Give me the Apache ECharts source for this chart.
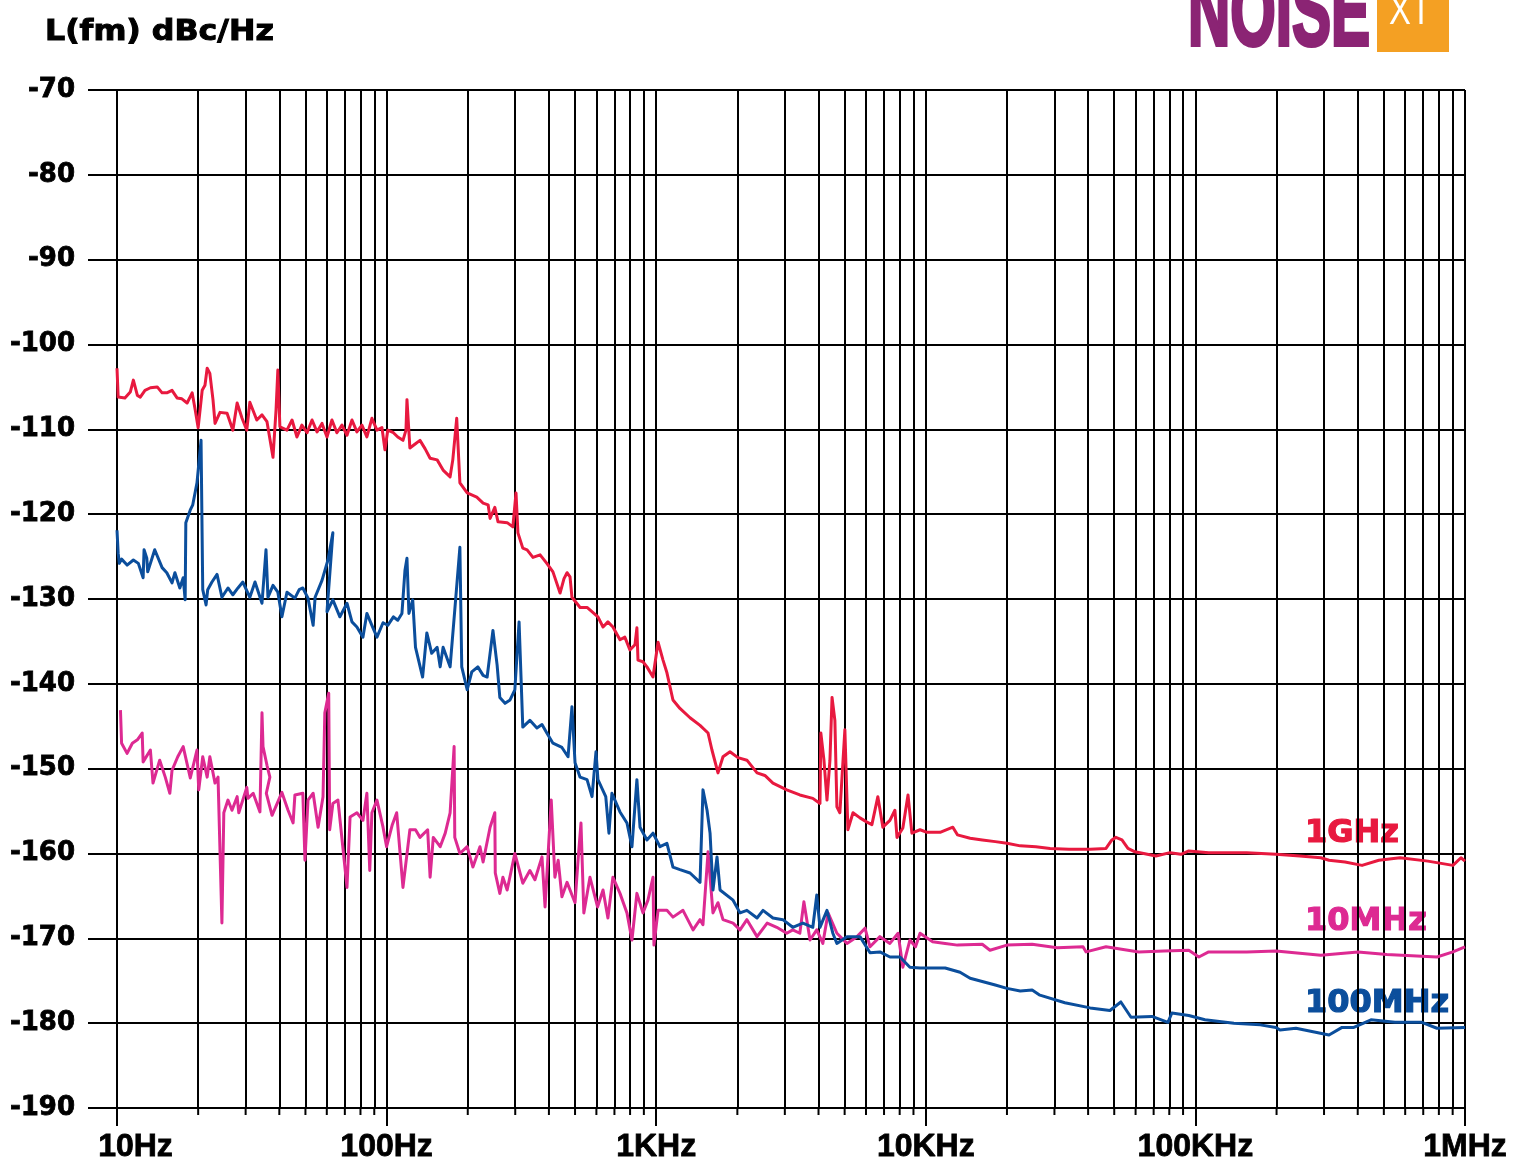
<!DOCTYPE html>
<html>
<head>
<meta charset="utf-8">
<script src="https://cdn.jsdelivr.net/npm/echarts@6.0.0/dist/echarts.min.js"></script>
<style>
html,body{margin:0;padding:0;background:#ffffff;}
#chart{width:1527px;height:1162px;}
</style>
</head>
<body>
<div id="chart"></div>
<script>
// ---------- data (frequency in Hz, level in dBc/Hz) ----------
const xTickValues = [10, 100, 1000, 10000, 100000, 1000000];
const xTickLabels = ['10Hz', '100Hz', '1KHz', '10KHz', '100KHz', '1MHz'];
const seriesNames = ['1GHz', '10MHz', '100MHz'];

const data1GHz = [[10,-102.8],[10.1,-106.2],[10.7,-106.3],[11.2,-105.6],[11.5,-104.2],[11.9,-106.0],[12.2,-106.2],[12.7,-105.4],[13.3,-105.1],[14.1,-105.0],[14.7,-105.7],[15.3,-105.7],[16.0,-105.4],[16.7,-106.3],[17.4,-106.4],[18.2,-106.9],[19.0,-105.7],[19.5,-107.7],[20.0,-109.8],[20.7,-105.4],[21.2,-104.8],[21.6,-102.8],[22.1,-103.4],[22.7,-106.5],[23.1,-109.3],[24.1,-108.0],[25.6,-108.1],[26.9,-110.1],[27.9,-106.9],[29.1,-108.7],[30.3,-110.1],[31.1,-106.8],[33.0,-108.9],[34.5,-108.3],[36.0,-109.1],[37.9,-113.3],[38.9,-107.7],[39.5,-103.0],[40.2,-109.7],[42.7,-110.1],[44.6,-108.9],[46.5,-110.9],[48.5,-109.5],[50.7,-110.4],[52.9,-108.9],[55.2,-110.3],[57.6,-109.3],[60.1,-110.9],[62.7,-108.9],[65.4,-110.4],[68.3,-109.5],[71.3,-110.7],[74.4,-108.9],[77.6,-110.3],[81.0,-109.5],[84.5,-110.9],[88.2,-108.7],[92.1,-110.1],[96.1,-109.8],[98.6,-112.4],[101,-110.1],[106,-110.4],[110,-110.9],[115,-111.3],[118,-110.1],[119,-106.5],[122,-112.2],[128,-111.7],[133,-111.3],[139,-112.3],[145,-113.4],[154,-113.6],[162,-114.8],[172,-115.6],[176,-113.6],[182,-108.7],[187,-116.3],[199,-117.5],[216,-118.0],[228,-118.7],[238,-118.9],[242,-120.5],[252,-119.2],[259,-120.9],[280,-121.0],[294,-121.5],[302,-117.5],[307,-122.2],[320,-124.0],[332,-124.2],[349,-125.1],[371,-124.8],[393,-125.8],[414,-126.8],[440,-129.3],[455,-127.6],[467,-126.9],[479,-127.4],[487,-129.8],[522,-131.0],[554,-131.0],[608,-132.1],[635,-133.3],[662,-132.7],[691,-133.3],[734,-134.8],[765,-134.5],[799,-136.0],[834,-135.4],[848,-133.4],[856,-137.2],[893,-137.4],[924,-138.0],[973,-139.2],[1016,-135.1],[1060,-137.2],[1096,-138.7],[1154,-141.9],[1225,-142.9],[1335,-144.0],[1454,-144.9],[1557,-145.8],[1610,-147.8],[1695,-150.5],[1769,-148.6],[1878,-148.0],[2010,-148.7],[2170,-149.0],[2366,-150.5],[2530,-150.8],[2710,-151.7],[3050,-152.5],[3410,-153.1],[3810,-153.5],[4050,-154.1],[4080,-145.8],[4190,-149.0],[4300,-153.7],[4410,-149.0],[4490,-141.6],[4600,-144.3],[4680,-154.5],[4800,-155.2],[5010,-145.4],[5140,-157.2],[5370,-155.2],[5700,-155.8],[6050,-156.3],[6310,-156.6],[6640,-153.3],[6930,-156.9],[7360,-156.1],[7680,-154.9],[7820,-158.1],[8220,-157.0],[8590,-153.1],[8880,-157.6],[9520,-157.2],[10100,-157.5],[11300,-157.5],[12600,-156.9],[13100,-157.8],[14600,-158.2],[16200,-158.4],[18100,-158.6],[20000,-158.8],[22400,-159.1],[25600,-159.2],[28900,-159.4],[34000,-159.5],[40700,-159.5],[46600,-159.4],[49000,-158.4],[50700,-158.1],[53400,-158.4],[56200,-159.4],[59700,-159.8],[71400,-160.3],[80500,-159.9],[88400,-160.1],[94500,-159.7],[112000,-159.9],[155000,-159.9],[199000,-160.1],[244000,-160.3],[292000,-160.5],[313000,-160.8],[359000,-161.0],[415000,-161.4],[479000,-160.8],[574000,-160.5],[728000,-160.9],[902000,-161.4],[966000,-160.5],[1000000,-160.9]];

const data10MHz = [[10.3,-143.1],[10.4,-147.0],[10.5,-146.9],[10.9,-148.2],[11.4,-147.0],[11.9,-146.6],[12.4,-145.8],[12.5,-149.2],[13.3,-147.8],[13.6,-151.7],[14.4,-149.0],[15.1,-151.0],[15.7,-152.9],[16.0,-150.2],[16.8,-148.6],[17.6,-147.4],[18.7,-151.1],[19.8,-147.8],[20.1,-152.5],[20.8,-148.6],[21.6,-151.0],[22.1,-148.6],[23.1,-151.7],[23.7,-151.0],[24.5,-168.2],[24.9,-155.2],[25.8,-153.7],[26.7,-154.9],[27.9,-153.3],[28.3,-155.2],[30.3,-152.2],[30.6,-153.5],[32.0,-152.9],[33.9,-155.1],[34.5,-143.4],[34.8,-147.4],[36.0,-149.6],[36.9,-151.0],[35.8,-152.9],[37.6,-155.5],[40.9,-152.8],[43.1,-154.9],[45.0,-156.4],[45.7,-153.1],[48.9,-152.9],[49.8,-160.8],[51.1,-153.7],[53.4,-152.9],[55.7,-156.9],[58.1,-153.3],[59.0,-143.4],[61.0,-141.1],[61.5,-157.2],[63.2,-154.1],[66.0,-153.7],[71.3,-164.0],[73.2,-155.7],[77.6,-155.2],[81.7,-156.1],[84.5,-152.9],[86.6,-162.0],[88.2,-155.2],[92.1,-153.7],[97.0,-156.9],[100,-159.2],[105,-156.6],[109,-155.2],[115,-164.0],[122,-157.2],[128,-157.2],[133,-158.1],[142,-157.2],[145,-162.8],[149,-158.1],[158,-159.2],[165,-157.6],[172,-155.2],[178,-147.4],[179,-158.1],[187,-160.0],[199,-159.2],[209,-161.6],[222,-159.2],[228,-161.0],[242,-156.9],[252,-155.2],[253,-162.3],[263,-164.7],[270,-162.8],[280,-164.3],[299,-160.0],[320,-163.5],[340,-162.0],[355,-163.1],[377,-160.4],[387,-166.3],[408,-153.7],[421,-162.8],[433,-160.8],[447,-165.1],[467,-163.4],[500,-165.8],[513,-160.8],[526,-156.4],[539,-167.0],[568,-162.8],[606,-166.3],[635,-164.3],[662,-167.6],[691,-162.8],[734,-164.7],[779,-167.0],[813,-170.2],[848,-164.7],[893,-167.0],[932,-165.5],[973,-162.8],[981,-170.8],[1016,-166.7],[1096,-166.7],[1154,-167.5],[1257,-166.7],[1370,-169.0],[1454,-167.8],[1491,-168.4],[1557,-159.8],[1624,-167.0],[1695,-165.8],[1769,-167.8],[1928,-168.2],[2046,-169.0],[2170,-167.8],[2366,-169.8],[2580,-168.2],[2800,-168.7],[3050,-169.4],[3210,-169.0],[3410,-169.4],[3530,-165.7],[3720,-170.2],[3940,-169.0],[4150,-170.6],[4340,-167.0],[4680,-169.4],[5100,-170.6],[5560,-169.8],[5950,-168.8],[6210,-171.0],[6760,-169.8],[7360,-170.6],[7890,-169.4],[8220,-173.4],[8730,-170.2],[9160,-171.0],[9520,-169.4],[10600,-170.4],[11800,-170.6],[13100,-170.8],[16200,-170.7],[17300,-171.4],[20000,-170.8],[24800,-170.7],[30700,-171.1],[38300,-171.0],[39300,-171.6],[46600,-171.0],[61700,-171.6],[76400,-171.5],[94500,-171.4],[103000,-172.2],[112000,-171.6],[155000,-171.6],[199000,-171.5],[292000,-172.0],[401000,-171.6],[513000,-171.9],[787000,-172.2],[902000,-171.6],[1000000,-171.0]];

const data100MHz = [[10,-121.9],[10.1,-124.6],[10.2,-125.8],[10.4,-125.3],[10.9,-126.0],[11.5,-125.4],[12.0,-125.8],[12.5,-127.5],[12.6,-124.2],[12.9,-125.2],[13.0,-126.8],[13.8,-124.2],[14.7,-126.3],[15.3,-126.9],[16.0,-128.1],[16.4,-126.9],[17.1,-128.7],[17.6,-127.5],[17.9,-130.1],[18.0,-121.0],[18.7,-119.5],[19.1,-118.9],[19.8,-116.3],[20.5,-111.3],[20.8,-128.9],[21.4,-130.7],[21.7,-128.9],[22.5,-128.0],[23.5,-127.1],[24.5,-129.8],[25.8,-128.7],[26.9,-129.5],[28.1,-128.7],[29.3,-128.0],[31.1,-129.8],[32.5,-128.0],[34.5,-130.5],[35.7,-124.2],[36.3,-129.8],[37.9,-128.4],[39.5,-129.2],[40.9,-132.1],[42.7,-129.2],[45.7,-129.9],[47.4,-128.9],[48.9,-128.7],[51.1,-129.9],[53.4,-133.1],[54.3,-129.8],[57.6,-127.8],[60.6,-125.4],[63.2,-122.2],[60.1,-131.5],[63.2,-130.1],[67.1,-132.1],[71.3,-130.5],[74.4,-132.7],[77.6,-133.3],[81.7,-134.5],[84.5,-131.7],[88.2,-133.1],[92.1,-134.5],[97.0,-132.8],[101,-133.1],[106,-132.1],[110,-132.5],[114,-131.7],[117,-126.6],[119,-125.2],[121,-131.7],[125,-130.1],[128,-135.7],[136,-139.2],[141,-134.0],[147,-136.4],[154,-135.7],[158,-138.0],[162,-135.7],[172,-138.0],[179,-131.3],[187,-123.9],[190,-138.0],[199,-140.7],[207,-138.6],[218,-138.0],[228,-139.0],[236,-139.2],[248,-133.7],[257,-137.8],[263,-141.6],[275,-142.3],[287,-141.9],[299,-140.7],[310,-132.7],[320,-145.1],[340,-144.3],[361,-145.2],[377,-144.8],[393,-145.8],[414,-147.0],[447,-147.5],[471,-148.6],[487,-142.7],[500,-149.3],[522,-151.0],[554,-151.3],[578,-153.3],[598,-148.0],[608,-151.3],[650,-153.3],[668,-157.6],[685,-152.9],[734,-155.1],[779,-156.4],[813,-159.2],[848,-151.3],[871,-156.9],[924,-158.4],[973,-157.6],[1033,-159.2],[1096,-158.8],[1154,-161.6],[1225,-161.9],[1335,-162.3],[1454,-163.4],[1491,-152.5],[1544,-154.9],[1584,-157.6],[1624,-164.3],[1681,-160.4],[1725,-164.3],[1928,-165.5],[2046,-167.0],[2170,-166.7],[2366,-167.6],[2490,-166.7],[2710,-167.6],[2950,-167.8],[3210,-168.7],[3500,-168.2],[3810,-168.7],[3940,-164.9],[4050,-168.7],[4300,-166.7],[4520,-169.4],[4680,-170.6],[5100,-169.8],[5700,-169.8],[6210,-171.7],[6760,-171.6],[7360,-172.2],[8020,-172.2],[8730,-173.4],[9520,-173.5],[11800,-173.5],[13400,-174.0],[14600,-174.7],[18100,-175.5],[20000,-175.9],[22400,-176.2],[24800,-176.1],[26500,-176.7],[32800,-177.6],[40700,-178.2],[48200,-178.5],[52900,-177.5],[57700,-179.3],[69000,-179.2],[79100,-179.9],[81800,-178.8],[94500,-179.1],[108500,-179.6],[139000,-180.0],[174000,-180.2],[199000,-180.5],[206000,-180.8],[236000,-180.6],[313000,-181.4],[350000,-180.5],[387000,-180.5],[448000,-179.6],[550000,-179.9],[692000,-179.9],[787000,-180.6],[1000000,-180.5]];

// ---------- chart ----------
const COL_RED = '#E8193F';
const COL_MAG = '#DD2A92';
const COL_BLUE = '#0B4E9C';
const GRID_COL = '#000000';

// minor (2..9 per decade) vertical grid positions, drawn through the x scale
const minorLines = [];
for (let d = 10; d < 1e6; d *= 10) {
  for (let m = 2; m <= 9; m++) minorLines.push({ xAxis: m * d });
}

function xLabel(v) {
  for (let i = 0; i < xTickValues.length; i++) {
    if (Math.abs(Math.log10(v) - Math.log10(xTickValues[i])) < 1e-6) {
      return i === 0 ? '{first|' + xTickLabels[i] + '}' : xTickLabels[i];
    }
  }
  return '';
}

const chart = echarts.init(document.getElementById('chart'), null, { renderer: 'canvas' });

function lineSeries(name, data, color) {
  return {
    name: name, type: 'line', data: data, showSymbol: false, symbol: 'none',
    z: 5, silent: true, animation: false,
    lineStyle: { color: color, width: 3, join: 'round' },
    itemStyle: { color: color },
    emphasis: { disabled: true }
  };
}

const labelFontX = { fontFamily: 'Liberation Sans', fontWeight: 'bold', fontSize: 32, color: '#000', textBorderColor: '#000', textBorderWidth: 0.8 };

const option = {
  animation: false,
  backgroundColor: '#ffffff',
  grid: { left: 117, right: 62, top: 90, bottom: 54, outerBoundsMode: 'none', containLabel: false },
  xAxis: {
    type: 'log', logBase: 10, min: 10, max: 1000000,
    axisLine: { show: true, lineStyle: { color: GRID_COL, width: 2 } },
    axisTick: { show: true, length: 18, lineStyle: { color: GRID_COL, width: 2 } },
    splitLine: { show: true, lineStyle: { color: GRID_COL, width: 2 } },
    minorTick: { show: false }, minorSplitLine: { show: false },
    axisLabel: Object.assign({
      margin: 23,
      formatter: xLabel,
      rich: { first: Object.assign({ padding: [0, 0, 0, 37] }, labelFontX) }
    }, labelFontX)
  },
  yAxis: {
    type: 'value', min: -190, max: -70, interval: 10,
    axisLine: { show: true, lineStyle: { color: GRID_COL, width: 2 } },
    axisTick: { show: true, length: 29, lineStyle: { color: GRID_COL, width: 2 } },
    splitLine: { show: true, lineStyle: { color: GRID_COL, width: 2 } },
    axisLabel: { margin: 42, color: '#000', fontFamily: 'DejaVu Sans', fontWeight: 'bold', fontSize: 26, textBorderColor: '#000', textBorderWidth: 0.8 }
  },
  series: [
    {
      name: 'minorGrid', type: 'line', data: [], z: 1, silent: true, animation: false,
      markLine: {
        silent: true, animation: false, symbol: ['none', 'none'],
        label: { show: false },
        lineStyle: { color: GRID_COL, width: 2, type: 'solid' },
        emphasis: { disabled: true },
        data: minorLines
      }
    },
    lineSeries(seriesNames[0], data1GHz, COL_RED),
    lineSeries(seriesNames[1], data10MHz, COL_MAG),
    lineSeries(seriesNames[2], data100MHz, COL_BLUE)
  ]
};
chart.setOption(option);

// decorations: title, logo, series labels, short minor ticks below the x axis
const graphics = [
  { type: 'text', x: 45, y: 33, scaleX: 1.13, silent: true,
    style: { text: 'L(fm) dBc/Hz', fill: '#000', font: 'bold 28px "DejaVu Sans"', align: 'left', verticalAlign: 'middle', stroke: '#000', lineWidth: 1 } },
  { type: 'text', x: 1188, y: 17, scaleX: 0.585, silent: true,
    style: { text: 'NOISE', fill: '#8B2474', font: 'bold 100px "Liberation Sans"', align: 'left', verticalAlign: 'middle', stroke: '#8B2474', lineWidth: 4 } },
  { type: 'rect', silent: true, shape: { x: 1377, y: -30, width: 72, height: 82 }, style: { fill: '#F4A023' } },
  { type: 'text', x: 1410, y: 12, scaleX: 0.78, silent: true,
    style: { text: 'XT', fill: '#ffffff', font: '42px "Liberation Sans"', align: 'center', verticalAlign: 'middle' } },
  { type: 'text', x: 1305, y: 834, silent: true,
    style: { text: seriesNames[0], fill: COL_RED, font: 'bold 32px "DejaVu Sans"', align: 'left', verticalAlign: 'middle', stroke: COL_RED, lineWidth: 1.2 } },
  { type: 'text', x: 1305, y: 922, silent: true,
    style: { text: seriesNames[1], fill: COL_MAG, font: 'bold 32px "DejaVu Sans"', align: 'left', verticalAlign: 'middle', stroke: COL_MAG, lineWidth: 1.2 } },
  { type: 'text', x: 1305, y: 1004, silent: true,
    style: { text: seriesNames[2], fill: COL_BLUE, font: 'bold 32px "DejaVu Sans"', align: 'left', verticalAlign: 'middle', stroke: COL_BLUE, lineWidth: 1.2 } }
];
const yBottom = chart.convertToPixel({ yAxisIndex: 0 }, -190);
minorLines.forEach(function (m) {
  const px = chart.convertToPixel({ xAxisIndex: 0 }, m.xAxis);
  graphics.push({ type: 'line', silent: true, shape: { x1: px, y1: yBottom, x2: px, y2: yBottom + 7 }, style: { stroke: GRID_COL, lineWidth: 2 } });
});
chart.setOption({ graphic: graphics });
</script>
</body>
</html>
